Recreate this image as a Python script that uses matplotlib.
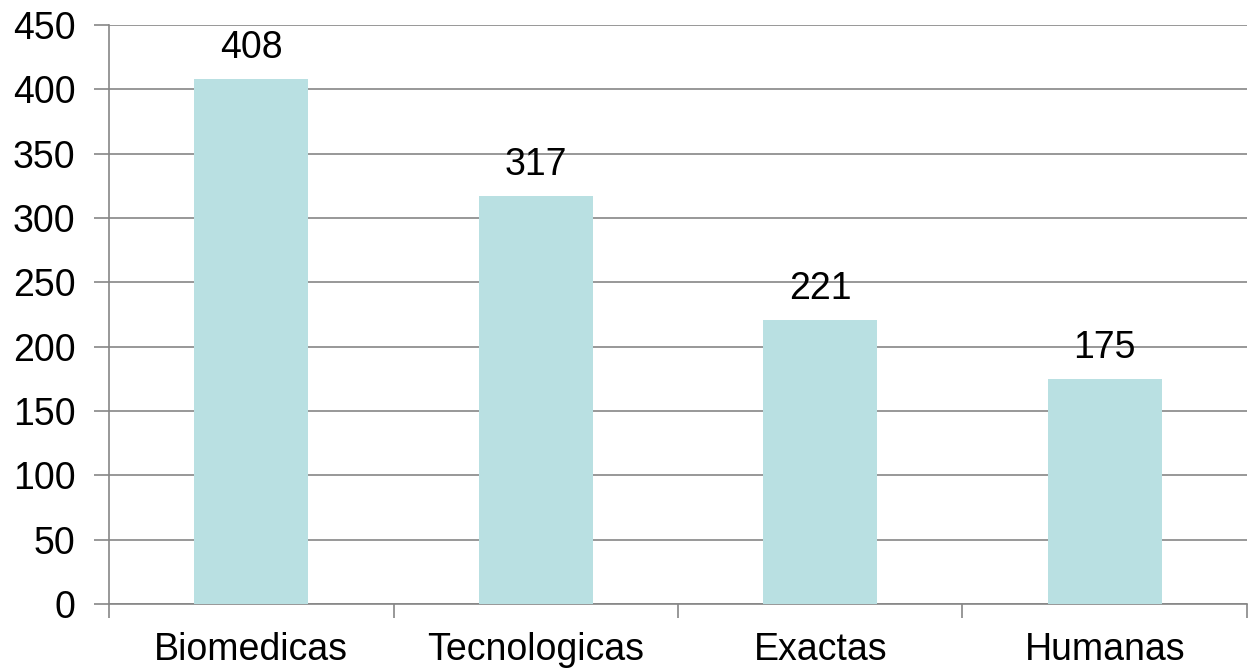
import matplotlib
matplotlib.use('Agg')
import matplotlib.pyplot as plt
import numpy as np

# datos
categorias = ['Biomedicas', 'Tecnologicas', 'Exactas', 'Humanas']
valores = [408, 317, 221, 175]
yticks = [0, 50, 100, 150, 200, 250, 300, 350, 400, 450]

plt.rcParams['font.family'] = ['Liberation Sans', 'DejaVu Sans']

fig = plt.figure(figsize=(12.56, 6.68), dpi=100)
ax = fig.add_axes([0.0868, 0.0958, 0.906, 0.8668])

x = np.arange(len(categorias))
ax.bar(x, valores, width=0.4, color='#B9E0E2', zorder=3)

for xi, v in zip(x, valores):
    ax.text(xi, v + 10, str(v), ha='center', va='bottom', fontsize=27)

ax.set_xlim(-0.5, len(categorias) - 0.5)
ax.set_ylim(0, 450)
ax.set_yticks(yticks)
ax.set_yticklabels([str(t) for t in yticks], fontsize=27)
ax.yaxis.grid(True, color='#868686', linewidth=1.2, zorder=0)

# categorias en minor ticks, marcas entre categorias en major ticks
ax.set_xticks(np.arange(len(categorias) + 1) - 0.5)
ax.set_xticklabels([])
ax.set_xticks(x, minor=True)
ax.set_xticklabels(categorias, minor=True, fontsize=27)
ax.tick_params(axis='x', which='major', direction='out', length=10, width=1.2, color='#868686')
ax.tick_params(axis='x', which='minor', length=0, pad=20)
ax.tick_params(axis='y', direction='out', length=11, width=1.2, color='#868686', pad=13)

for s in ['top', 'right']:
    ax.spines[s].set_visible(False)
for s in ['left', 'bottom']:
    ax.spines[s].set_color('#868686')
    ax.spines[s].set_linewidth(1.2)

fig.savefig('out.png', dpi=100)
